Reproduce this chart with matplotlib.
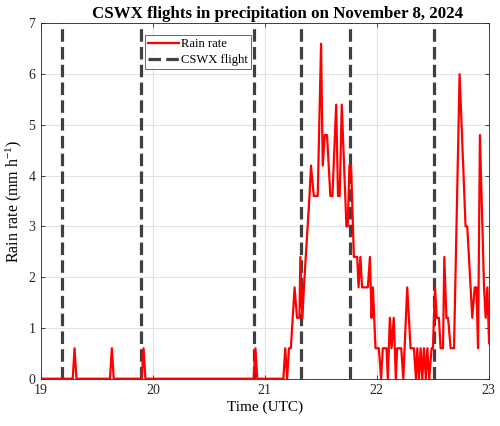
import numpy as np
import matplotlib
matplotlib.use("Agg")
import matplotlib.pyplot as plt

# rain rate vertices: minutes after 19:00 UTC, value in mm/h
rain_min = [0, 17, 18, 19, 37, 38, 39, 54, 55, 56, 114, 115, 116, 130, 131, 132,
            133, 134, 136, 137.3, 138.6, 139.1, 140.2, 141, 142, 143, 144, 144.8,
            146.3, 148.4, 150.2, 151.1, 152.2, 153.4, 155.2, 156.3, 158.3, 159.3,
            160.2, 161.3, 163.8, 164.5, 165.4, 166.3, 167.8, 169.6, 170.3, 171.3,
            172.2, 175.3, 176.4, 177.3, 178.0, 179.4, 181.2, 182.4, 183.3, 185.3,
            186.0, 187.1, 188.0, 189.2, 190.3, 191.0, 193.2, 194.3, 196.4, 198.2,
            200.0, 201.1, 201.8, 202.7, 203.6, 204.5, 205.4, 206.4, 207.2, 208.2,
            209.5, 210.2, 211.3, 212.2, 213.4, 214.3, 215.6, 216.3, 217.4, 218.3,
            219.7, 221.5, 224.5, 227.7, 228.6, 231.3, 232.6, 233.5, 234.4, 235.4,
            237.6, 238.5, 239.4, 240.3]
rain_val = [0, 0, 0.6, 0, 0, 0.6, 0, 0, 0.6, 0, 0, 0.6, 0, 0, 0.6, 0,
            0.6, 0.6, 1.8, 1.2, 1.2, 2.4, 1.2, 1.8, 2.4, 3.0, 3.6, 4.2,
            3.6, 3.6, 6.6, 4.2, 4.8, 4.8, 3.6, 3.6, 5.4, 3.6,
            3.6, 5.4, 3.0, 3.0, 4.2, 4.2, 2.4, 2.4, 1.8, 2.4,
            1.8, 1.8, 2.4, 1.2, 1.8, 0.6, 0.6, 0, 0.6, 0.6,
            0, 1.2, 0.6, 1.2, 0, 0.6, 0.6, 0, 1.8, 0.6,
            0.6, 0, 0.6, 0, 0.6, 0, 0.6, 0, 0.6, 0,
            0.6, 0.6, 1.8, 1.2, 1.2, 0.6, 0.6, 2.4, 1.2, 1.2,
            0.6, 0.6, 6.0, 3.0, 3.0, 1.2, 1.8, 1.8, 0.6, 4.8,
            1.8, 1.2, 1.8, 0.7]

# CSWX flight times (UTC hours)
flights = [19.19, 19.89, 20.90, 21.325, 21.76, 22.51]

plt.rcParams['font.family'] = ['Liberation Serif', 'DejaVu Serif']
plt.rcParams['mathtext.fontset'] = 'custom'
plt.rcParams['mathtext.rm'] = 'Liberation Serif'
plt.rcParams['mathtext.it'] = 'Liberation Serif:italic'
plt.rcParams['lines.scale_dashes'] = False

fig = plt.figure(figsize=(5.0, 4.26), dpi=100)
ax = fig.add_axes([0.082, 0.111, 0.895, 0.834])

t = 19 + np.array(rain_min) / 60.0
ax.plot(t, rain_val, color='red', lw=1.6, label='Rain rate', zorder=3)
for i, f in enumerate(flights):
    ax.axvline(f, color='#404040', lw=2.3, ls=(0, (9, 3.8)),
               label='CSWX flight' if i == 0 else None, zorder=2)

ax.set_xlim(19, 23)
ax.set_ylim(0, 7)
ax.set_xticks([19, 20, 21, 22, 23])
ax.set_yticks(range(8))
ax.grid(True, color='#e3e3e3', lw=0.8)
ax.set_axisbelow(True)
ax.tick_params(direction='in', top=True, right=True, labelsize=10,
               length=3, width=0.6, pad=4, colors='#262626', labelcolor='#262626')
for s in ax.spines.values():
    s.set_color('#262626')
    s.set_linewidth(0.6)

ax.set_title('CSWX flights in precipitation on November 8, 2024',
             fontsize=12.2, fontweight='bold', pad=4, x=0.529)
ax.set_xlabel('Time (UTC)', fontsize=11, labelpad=2)
ax.set_ylabel('Rain rate (mm h$^{-1}$)', fontsize=11.5, labelpad=3)

leg = ax.legend(loc='upper left', bbox_to_anchor=(0.233, 0.967), fontsize=9.1,
                frameon=True, fancybox=False, edgecolor='#262626',
                handlelength=2.4, handletextpad=0.15, borderpad=0.25,
                labelspacing=0.3, borderaxespad=0)
leg.get_frame().set_linewidth(0.6)

fig.savefig('out.png', dpi=100)
